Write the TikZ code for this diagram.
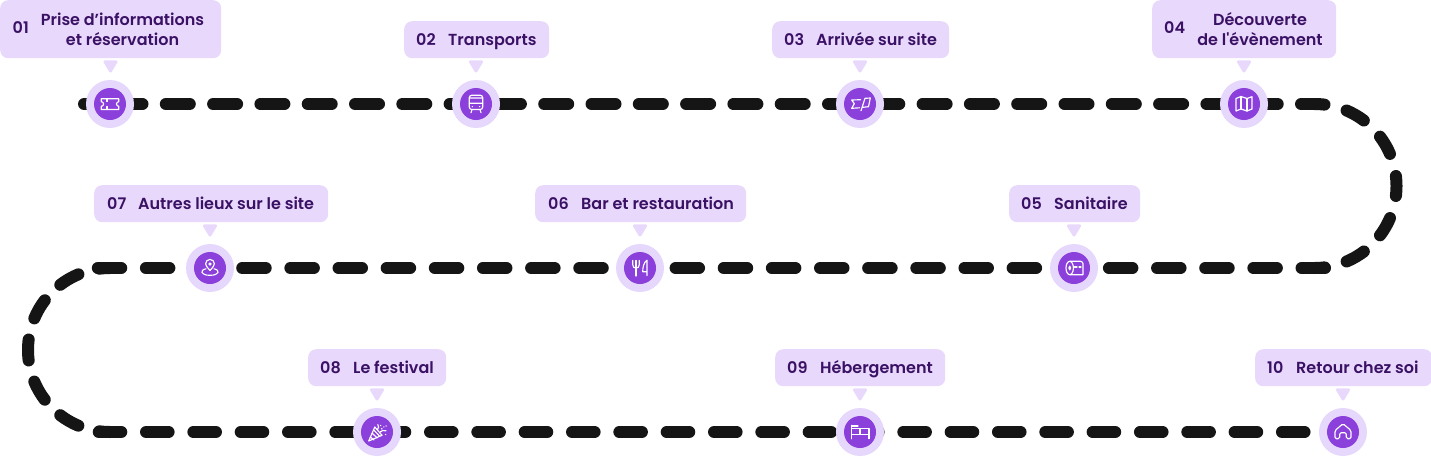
\documentclass[tikz,border=0pt]{standalone}
\usepackage{fontspec}
\newfontfamily\popf{Poppins}[UprightFont=* SemiBold,BoldFont=* Bold]
\setmainfont{Poppins}[UprightFont=* SemiBold,BoldFont=* Bold]
\definecolor{boxc}{HTML}{E8D9FC}
\definecolor{ringc}{HTML}{E6D8FC}
\definecolor{discc}{HTML}{8B3FDB}
\definecolor{inkc}{HTML}{3A1165}
\definecolor{linec}{HTML}{151515}
\tikzset{
  labelbox/.style={fill=boxc,rounded corners=8pt,inner sep=0pt,anchor=north west},
  numtext/.style={text=inkc,font=\popf\fontsize{16pt}{20pt}\selectfont,anchor=west,inner sep=0pt,text height=11.5pt,text depth=3.5pt},
  titletext/.style={text=inkc,font=\popf\fontsize{16pt}{20pt}\selectfont,align=center,inner sep=0pt},
  onetext/.style={titletext,anchor=west,text height=11.5pt,text depth=3.5pt},
  ring/.style={circle,fill=ringc,minimum size=48pt,inner sep=0pt},
  disc/.style={circle,fill=discc,minimum size=32pt,inner sep=0pt},
  pointer/.style={fill=boxc,draw=boxc,line width=3pt,line join=round},
  iconline/.style={draw=white,line width=1.15pt,line join=round,line cap=round},
  trail/.style={draw=linec,line width=12pt,line cap=round},
}
\newcommand{\stepbox}[7]{% id, x, y(top), w, h, circle x, circle y
  \node[labelbox,minimum width=#4pt,minimum height=#5pt] (b#1) at (#2,#3) {};
  \coordinate (pa#1) at (#6-5.5,#7-42.2);
  \coordinate (pb#1) at (#6+5.5,#7-42.2);
  \coordinate (pc#1) at (#6,#7-33);
  \draw[pointer] (pa#1) -- (pb#1) -- (pc#1) -- cycle;
}
\begin{document}
\begin{tikzpicture}[x=1pt,y=-1pt]
\useasboundingbox (0,0) rectangle (1431,456);
% trail
\coordinate (s) at (84,104);
\coordinate (tr) at (1314.5,104);
\coordinate (rr) at (1325,268);
\coordinate (bl) at (97.8,268);
\coordinate (la) at (110,268);
\coordinate (lb) at (98.7,432);
\coordinate (e) at (1304.6,432);
\draw[trail,dash pattern=on 24pt off 23.3pt,dash phase=12.8pt] (s) -- (tr);
\draw[trail,dash pattern=on 20pt off 22.93pt,dash phase=10pt] (tr) arc[start angle=90,end angle=-90,radius=82pt];
\draw[trail,dash pattern=on 23.5pt off 24.65pt] (rr) -- (bl);
\draw[trail,dash pattern=on 21pt off 21.93pt,dash phase=10.5pt] (la) arc[start angle=90,end angle=270,radius=82pt];
\draw[trail,dash pattern=on 22.6pt off 24.73pt] (lb) -- (e);
% boxes
\stepbox{1}{0}{0}{221}{58}{110.5}{104}
\stepbox{2}{404}{21}{145}{37}{476}{104}
\stepbox{3}{772}{21}{177}{37}{860}{104}
\stepbox{4}{1152}{0}{184}{58}{1244}{104}
\stepbox{5}{1009}{185}{131}{37}{1074}{268}
\stepbox{6}{535}{185}{211}{37}{640}{268}
\stepbox{7}{94}{185}{234}{37}{210}{268}
\stepbox{8}{308}{349}{138}{37}{377}{432}
\stepbox{9}{775}{349}{170}{37}{860}{432}
\stepbox{10}{1255}{349}{177}{37}{1343}{432}
% text
\node[numtext] (n1) at (12.5,29.5) {01};
\node[titletext] (t1) at (122.5,29) {Prise d’informations\\et réservation};
\node[numtext] (n2) at (416,41) {02};
\node[onetext] (t2) at (448,41) {Transports};
\node[numtext] (n3) at (784,41) {03};
\node[onetext] (t3) at (816,41) {Arrivée sur site};
\node[numtext] (n4) at (1164,29.5) {04};
\node[titletext] (t4) at (1260,29) {Découverte\\de l'évènement};
\node[numtext] (n5) at (1021,205) {05};
\node[onetext] (t5) at (1054,205) {Sanitaire};
\node[numtext] (n6) at (548,205) {06};
\node[onetext] (t6) at (581,205) {Bar et restauration};
\node[numtext] (n7) at (107,205) {07};
\node[onetext] (t7) at (138,205) {Autres lieux sur le site};
\node[numtext] (n8) at (320,369) {08};
\node[onetext] (t8) at (353,369) {Le festival};
\node[numtext] (n9) at (787,369) {09};
\node[onetext] (t9) at (820,369) {Hébergement};
\node[numtext] (n10) at (1267,369) {10};
\node[onetext] (t10) at (1296,369) {Retour chez soi};
% circles
\foreach \id/\cx/\cy in {1/110/104,2/476/104,3/860/104,4/1244/104,5/1074/268,6/640/268,7/210/268,8/377/432,9/860/432,10/1343/432}{
  \node[ring] (r\id) at (\cx,\cy) {};
  \node[disc] (d\id) at (\cx,\cy) {};
}
% icons
\begin{scope}[shift={(110,104)}] % ticket
  \draw[iconline] (-8.7,-5.3) -- (8.8,-5.3) -- (8.8,-2.3) arc[start angle=90,end angle=270,radius=2.3pt] -- (8.8,5.5) -- (-8.7,5.5) -- (-8.7,2.3) arc[start angle=-90,end angle=90,radius=2.3pt] -- cycle;
  \draw[iconline] (-3,-5.3) -- (-3,-2.5) (-3,2.5) -- (-3,5.5);
\end{scope}
\begin{scope}[shift={(476,104)}] % train
  \draw[iconline,rounded corners=2.5pt] (-6.7,-8.8) rectangle (6.7,5.5);
  \draw[iconline] (-6.7,-0.7) -- (6.7,-0.7) (-6.7,-6) -- (6.7,-6) (-4,5.5) -- (-5,8.7) (4,5.5) -- (5,8.7) (-3.8,2.6) -- (-3.4,2.6) (3.8,2.6) -- (3.4,2.6);
\end{scope}
\begin{scope}[shift={(860,104)}] % flag
  \draw[iconline] (1,6.7) -- (5,-5.7) -- (10.3,-6) -- (8.5,2.7) -- (2.8,3.3);
  \draw[iconline] (0.5,-4.3) -- (-8.3,-4) -- (-5.7,-0.3) -- (-8.3,4.3) -- (-0.5,3.8);
\end{scope}
\begin{scope}[shift={(1244,104)}] % map
  \draw[iconline] (-8,-5.5) -- (-3,-7.5) -- (3,-5.5) -- (8,-7.3) -- (8,5) -- (3,7) -- (-3,5) -- (-8,7) -- cycle;
  \draw[iconline] (-3,-7.5) -- (-3,5) (3,-5.5) -- (3,7);
\end{scope}
\begin{scope}[shift={(1074,268)}] % toilet roll
  \draw[iconline] (-4.3,-6.7) -- (6.5,-6.7) arc[start angle=90,end angle=0,radius=2.5pt] -- (9,6.7) -- (-4.3,6.7);
  \draw[iconline] (-4.3,0) ellipse[x radius=3.7pt,y radius=6.7pt];
  \draw[iconline] (-4.3,0) ellipse[x radius=0.9pt,y radius=1.8pt];
  \draw[iconline] (0.5,-1) -- (3,-1) (5,-1) -- (7,-1);
\end{scope}
\begin{scope}[shift={(640,268)}] % cutlery
  \draw[iconline] (-7.3,-7.5) -- (-7.3,-3.5) .. controls (-7.3,-1) and (-6,0) .. (-4,0) .. controls (-2,0) and (-0.7,-1) .. (-0.7,-3.5) -- (-0.7,-7.5);
  \draw[iconline] (-4,-7.5) -- (-4,8);
  \draw[iconline] (7,7.5) -- (7,-7.8) .. controls (4,-6) and (2.7,-1) .. (2.7,3.7) -- (7,3.7);
\end{scope}
\begin{scope}[shift={(210,268)}] % location
  \draw[iconline] (0,2.5) .. controls (-2.5,-0.5) and (-4.4,-2.3) .. (-4.4,-4.2) arc[start angle=180,end angle=0,radius=4.4pt] .. controls (4.4,-2.3) and (2.5,-0.5) .. (0,2.5);
  \draw[iconline] (0,-4) circle[radius=1.1pt];
  \draw[iconline] (-4,0.8) .. controls (-10.5,2) and (-9.5,7.3) .. (0,7.3) .. controls (9.5,7.3) and (10.5,2) .. (4,0.8);
\end{scope}
\begin{scope}[shift={(377,432)}] % party popper
  \draw[iconline] (-8.3,9) -- (-2.2,-5) -- (5,3.3) -- cycle;
  \draw[iconline] (-6.7,5) -- (-3,8) (-4.8,1.3) -- (0.3,6) (-3.2,-2) -- (2.7,4.3);
  \draw[iconline] (0.5,-2.5) .. controls (1.5,-4) and (2.2,-5.5) .. (0.8,-7.5) (3,0) .. controls (5,-1.5) and (6.5,-2) .. (9,-1.2) (3.5,-6.5) -- (3.8,-6.5) (6.7,-5) -- (7,-5.2) (9,-6) -- (9.3,-6) (8.5,2.5) -- (8.8,2.5) (4.5,-3) -- (5,-3.5);
\end{scope}
\begin{scope}[shift={(860,432)}] % bed
  \draw[iconline] (-8.3,-6.7) -- (-8.3,6.7) (9,6.7) -- (9,-3.3) -- (-8.3,-3.3) (-8.3,2.3) -- (9,2.3) (0,-3.3) -- (0,2.3);
  \draw[iconline] (-8.3,-6) -- (-2,-6);
\end{scope}
\begin{scope}[shift={(1343,432)}] % house
  \draw[iconline,rounded corners=1.5pt] (-8,-1.5) -- (0,-8.3) -- (8,-1.5) -- (8,6.7) -- (3.3,6.7) -- (3.3,0.7) -- (-3.3,0.7) -- (-3.3,6.7) -- (-8,6.7) -- cycle;
\end{scope}
\end{tikzpicture}
\end{document}
